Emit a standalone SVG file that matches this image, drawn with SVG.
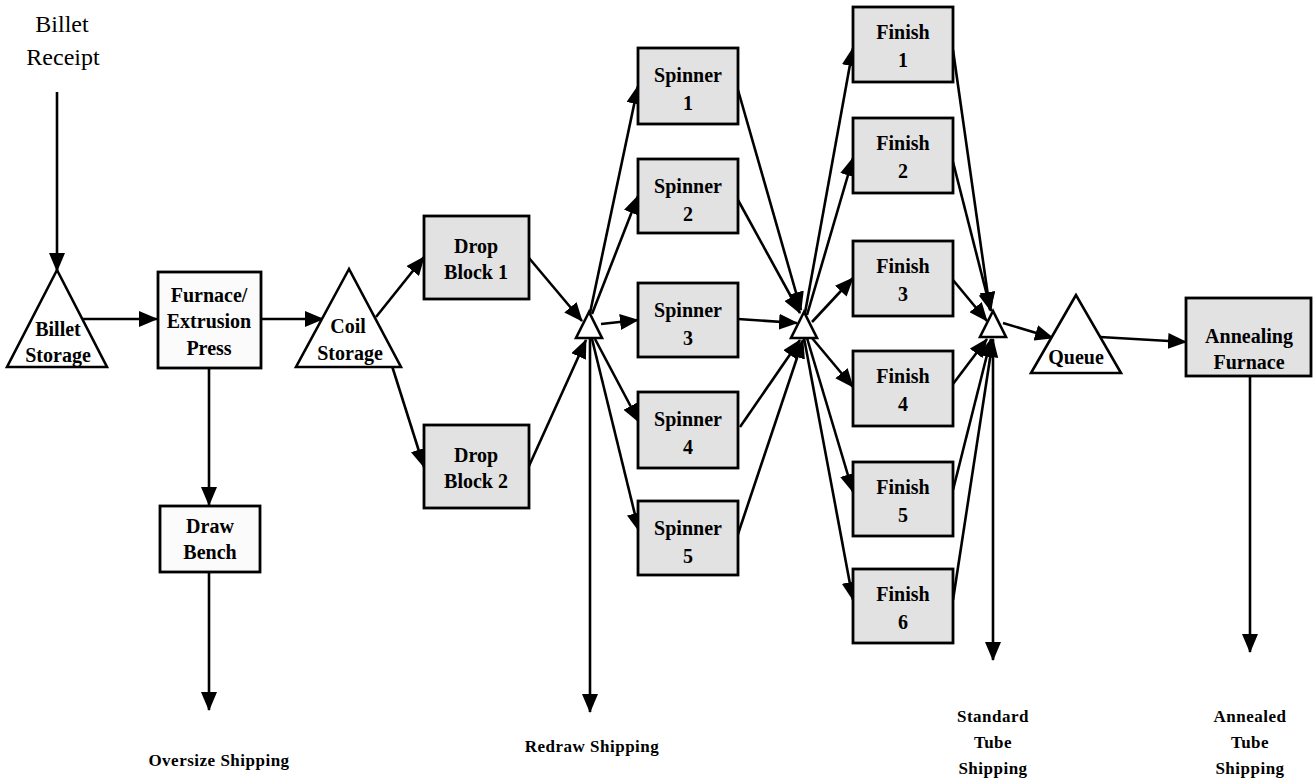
<svg xmlns="http://www.w3.org/2000/svg" width="1314" height="782" viewBox="0 0 1314 782">
<style>
.box{stroke:#000;stroke-width:2.8;fill:#e2e2e2}
.wbox{stroke:#000;stroke-width:2.8;fill:#fbfbfb}
.tri{stroke:#000;stroke-width:2.6;fill:#fff}
.lbl{font-family:"Liberation Serif","Times New Roman",serif;font-size:20px;font-weight:bold;text-anchor:middle;fill:#000}
.big{font-family:"Liberation Serif","Times New Roman",serif;font-size:24px;text-anchor:middle;fill:#000}
.ship{font-family:"Liberation Serif","Times New Roman",serif;font-size:17px;font-weight:bold;text-anchor:middle;fill:#000;letter-spacing:0.5px}
.c line{stroke:#000;stroke-width:2.6;marker-end:url(#ah)}
</style>
<defs>
<marker id="ah" markerWidth="19" markerHeight="16" refX="18" refY="8" orient="auto" markerUnits="userSpaceOnUse">
<path d="M0,0 L19,8 L0,16 z" fill="#000"/>
</marker>
</defs>
<rect width="1314" height="782" fill="#fff"/>

<g id="connectors" class="c">
<line x1="57" y1="92" x2="57" y2="271"/>
<line x1="83" y1="319" x2="157" y2="319"/>
<line x1="261" y1="319" x2="323" y2="319"/>
<line x1="209" y1="368" x2="209" y2="505"/>
<line x1="209" y1="572" x2="209" y2="710"/>
<line x1="376" y1="317" x2="424" y2="257"/>
<line x1="380" y1="328" x2="424" y2="467"/>
<line x1="529" y1="258" x2="582" y2="321"/>
<line x1="529" y1="466" x2="586" y2="340"/>
<line x1="590" y1="313" x2="638" y2="86"/>
<line x1="592" y1="314" x2="638" y2="196"/>
<line x1="601" y1="324" x2="638" y2="320"/>
<line x1="595" y1="339" x2="639" y2="422"/>
<line x1="592" y1="339" x2="639" y2="531"/>
<line x1="590" y1="339" x2="590" y2="712"/>
<line x1="738" y1="90" x2="801" y2="310"/>
<line x1="738" y1="200" x2="800" y2="313"/>
<line x1="738" y1="319" x2="797" y2="323"/>
<line x1="740" y1="427" x2="800" y2="340"/>
<line x1="737" y1="537" x2="803" y2="340"/>
<line x1="805" y1="313" x2="853" y2="48"/>
<line x1="807" y1="315" x2="853" y2="158"/>
<line x1="812" y1="322" x2="853" y2="278"/>
<line x1="812" y1="338" x2="853" y2="387"/>
<line x1="807" y1="338" x2="853" y2="492"/>
<line x1="804" y1="338" x2="853" y2="600"/>
<line x1="953" y1="50" x2="990" y2="310"/>
<line x1="953" y1="162" x2="991" y2="311"/>
<line x1="953" y1="280" x2="987" y2="321"/>
<line x1="953" y1="384" x2="987" y2="339"/>
<line x1="953" y1="490" x2="991" y2="339"/>
<line x1="953" y1="600" x2="993" y2="339"/>
<line x1="993" y1="340" x2="993" y2="660"/>
<line x1="1003" y1="323" x2="1053" y2="338"/>
<line x1="1100" y1="337" x2="1186" y2="342"/>
<line x1="1250" y1="376" x2="1250" y2="652"/>
</g>

<g id="billet-receipt">
<text class="big" x="62" y="32">Billet</text>
<text class="big" x="63" y="65">Receipt</text>
</g>

<g id="billet-storage">
<polygon class="tri" points="57,270 7,367 107,367"/>
<text class="lbl" x="58" y="336">Billet</text>
<text class="lbl" x="58" y="362">Storage</text>
</g>

<g id="furnace">
<rect class="wbox" x="158" y="272" width="103" height="96"/>
<text class="lbl" x="209" y="302">Furnace/</text>
<text class="lbl" x="209" y="328">Extrusion</text>
<text class="lbl" x="209" y="355">Press</text>
</g>

<g id="draw-bench">
<rect class="wbox" x="160" y="506" width="100" height="66"/>
<text class="lbl" x="210" y="533">Draw</text>
<text class="lbl" x="210" y="559">Bench</text>
</g>

<g id="coil-storage">
<polygon class="tri" points="349,269 296,367 401,367"/>
<text class="lbl" x="348" y="333">Coil</text>
<text class="lbl" x="350" y="360">Storage</text>
</g>

<g id="drop-block-1">
<rect class="box" x="424" y="216" width="105" height="83"/>
<text class="lbl" x="476" y="253">Drop</text>
<text class="lbl" x="476" y="279">Block 1</text>
</g>

<g id="drop-block-2">
<rect class="box" x="424" y="425" width="105" height="83"/>
<text class="lbl" x="476" y="462">Drop</text>
<text class="lbl" x="476" y="488">Block 2</text>
</g>

<g id="junction-1">
<polygon class="tri" points="589,312 576,338 602,338"/>
</g>

<g id="spinner-1">
<rect class="box" x="638" y="48" width="100" height="76"/>
<text class="lbl" x="688" y="82">Spinner</text>
<text class="lbl" x="688" y="110">1</text>
</g>
<g id="spinner-2">
<rect class="box" x="638" y="159" width="100" height="74"/>
<text class="lbl" x="688" y="193">Spinner</text>
<text class="lbl" x="688" y="221">2</text>
</g>
<g id="spinner-3">
<rect class="box" x="638" y="283" width="100" height="74"/>
<text class="lbl" x="688" y="317">Spinner</text>
<text class="lbl" x="688" y="345">3</text>
</g>
<g id="spinner-4">
<rect class="box" x="638" y="392" width="100" height="76"/>
<text class="lbl" x="688" y="426">Spinner</text>
<text class="lbl" x="688" y="454">4</text>
</g>
<g id="spinner-5">
<rect class="box" x="638" y="501" width="100" height="74"/>
<text class="lbl" x="688" y="535">Spinner</text>
<text class="lbl" x="688" y="563">5</text>
</g>

<g id="junction-2">
<polygon class="tri" points="804,312 791,338 817,338"/>
</g>

<g id="finish-1">
<rect class="box" x="853" y="7" width="100" height="75"/>
<text class="lbl" x="903" y="39">Finish</text>
<text class="lbl" x="903" y="67">1</text>
</g>
<g id="finish-2">
<rect class="box" x="853" y="118" width="100" height="75"/>
<text class="lbl" x="903" y="150">Finish</text>
<text class="lbl" x="903" y="178">2</text>
</g>
<g id="finish-3">
<rect class="box" x="853" y="241" width="100" height="75"/>
<text class="lbl" x="903" y="273">Finish</text>
<text class="lbl" x="903" y="301">3</text>
</g>
<g id="finish-4">
<rect class="box" x="853" y="351" width="100" height="75"/>
<text class="lbl" x="903" y="383">Finish</text>
<text class="lbl" x="903" y="411">4</text>
</g>
<g id="finish-5">
<rect class="box" x="853" y="462" width="100" height="74"/>
<text class="lbl" x="903" y="494">Finish</text>
<text class="lbl" x="903" y="522">5</text>
</g>
<g id="finish-6">
<rect class="box" x="853" y="569" width="100" height="74"/>
<text class="lbl" x="903" y="601">Finish</text>
<text class="lbl" x="903" y="629">6</text>
</g>

<g id="junction-3">
<polygon class="tri" points="993,311 980,337 1006,337"/>
</g>

<g id="queue">
<polygon class="tri" points="1076,295 1031,373 1121,373"/>
<text class="lbl" x="1076" y="364">Queue</text>
</g>

<g id="annealing-furnace">
<rect class="box" x="1186" y="298" width="125" height="78"/>
<text class="lbl" x="1249" y="343">Annealing</text>
<text class="lbl" x="1249" y="369">Furnace</text>
</g>

<g id="shipping-labels">
<text class="ship" x="219" y="766">Oversize Shipping</text>
<text class="ship" x="592" y="752">Redraw Shipping</text>
<text class="ship" x="993" y="722">Standard</text>
<text class="ship" x="993" y="748">Tube</text>
<text class="ship" x="993" y="774">Shipping</text>
<text class="ship" x="1250" y="722">Annealed</text>
<text class="ship" x="1250" y="748">Tube</text>
<text class="ship" x="1250" y="774">Shipping</text>
</g>
</svg>
